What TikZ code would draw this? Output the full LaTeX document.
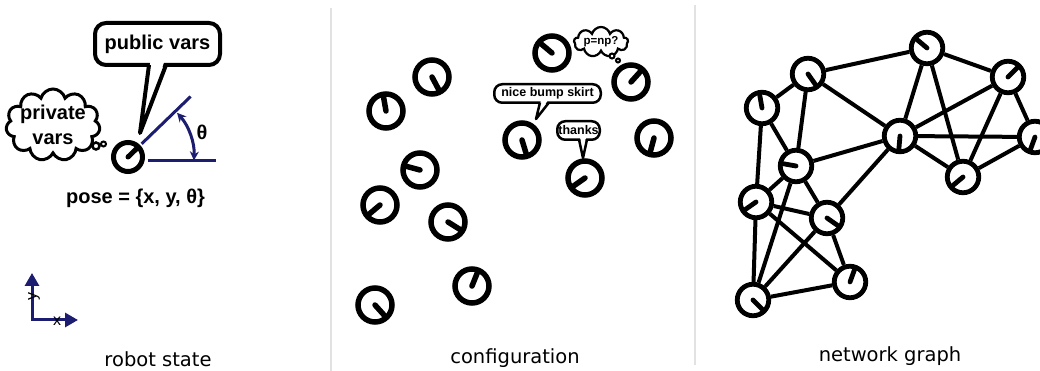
\documentclass[tikz,border=0pt]{standalone}
\usepackage{fontspec}
\setmainfont{Liberation Sans}
\newfontfamily\capfont{DejaVu Sans}
\usetikzlibrary{arrows.meta,shapes.symbols,calc}
\definecolor{botNavy}{RGB}{28,28,112}
\definecolor{ruleGray}{RGB}{226,226,226}
\tikzset{
	robot/.style n args={3}{
		circle,
		draw,
		fill=white,
		inner sep=0pt,
		line width=#2,
		minimum size=#3,
		path picture={\draw[line width=#2, line cap=round] (path picture bounding box.center) -- ++(#1:#3);}
	},
	cbot/.style={robot={#1}{5.5pt}{34pt}},
	gbot/.style={robot={#1}{4.8pt}{31.5pt}},
	link/.style={line width=4pt},
	pbubble/.style={
		draw,
		fill=white,
		line width=4pt,
		rounded corners=11pt,
		minimum width=125pt,
		minimum height=42pt,
		font=\fontsize{20}{24}\selectfont\bfseries
	},
	sbubble/.style={
		draw,
		fill=white,
		line width=2.5pt,
		rounded corners=8pt,
		inner sep=0pt,
		minimum height=18.5pt,
		font=\fontsize{12.5}{14}\selectfont\bfseries
	},
	think/.style={cloud, draw, fill=white, cloud ignores aspect, inner sep=0pt},
	thinkdot/.style={circle, draw, fill=white, inner sep=0pt},
	tail/.style={line join=round},
	nvline/.style={botNavy, line width=3pt},
	axis/.style={botNavy, line width=3pt, {Triangle[length=13pt,width=14pt]}-{Triangle[length=13pt,width=14pt]}},
	caption/.style={anchor=base, inner sep=0pt, font=\capfont\fontsize{19.5}{22}\selectfont}
}
\begin{document}
\begin{tikzpicture}[x=1pt, y=1pt]
		\useasboundingbox (0,0) rectangle (1040,371);
		\fill[white] (0,0) rectangle (1040,371);
		\draw[ruleGray, line width=1.5pt] (331,0) -- (331,363);
		\draw[ruleGray, line width=1.5pt] (695,6) -- (695,366);

		\node[robot={44}{5pt}{29pt}] (me) at (128,214) {};
		\draw[nvline] ($(me)+(44:19)$) -- ($(me)+(44:87)$);
		\draw[nvline] (148,210) -- (216,210);
		\draw[nvline, {Stealth[length=9pt,width=9pt]}-{Stealth[length=9pt,width=9pt]}] ($(me)+(-3:66)$) arc[start angle=-3, end angle=42, radius=66];
		\node[font=\fontsize{20}{24}\selectfont\bfseries] (theta) at (202,239) {θ};
		\node[pbubble] (pub) at (157.5,327) {public vars};
		\coordinate (pubtip) at (140,238);
		\fill[white] (150.5,310) -- (164.5,310) -- (pubtip) -- cycle;
		\draw[tail, line width=4pt] (149,306) -- (pubtip) -- (166,306);
		\node[think, cloud puffs=11, line width=3pt, minimum width=94pt, minimum height=72pt] (priv) at (53,246) {};
		\node[align=center, inner sep=0pt, font=\fontsize{20}{25}\selectfont\bfseries] (privtext) at (priv.center) {private\\vars};
		\node[thinkdot, line width=2.5pt, minimum size=7pt] (privdotA) at (96,225) {};
		\node[thinkdot, line width=2pt, minimum size=5pt] (privdotB) at (103.5,227) {};
		\node[font=\fontsize{20}{24}\selectfont\bfseries] (pose) at (135.5,173) {pose = \{x, y, θ\}};
		\coordinate (orig) at (32,51);
		\coordinate (yend) at (32,98);
		\coordinate (xend) at (78,51);
		\draw[axis] (yend) -- (orig) -- (xend);
		\node[rotate=90, font=\fontsize{16}{18}\selectfont] (ylab) at (34,74) {y};
		\node[font=\fontsize{16}{18}\selectfont] (xlab) at (57,50) {x};
		\node[caption] (capA) at (158,4) {robot state};

		\node[cbot=-62] (cA) at (432,294) {};
		\node[cbot=100] (cB) at (386,260) {};
		\node[cbot=165] (cC) at (420,201) {};
		\node[cbot=-140] (cD) at (380,166) {};
		\node[cbot=-32] (cE) at (448,149) {};
		\node[cbot=68] (cF) at (472,85) {};
		\node[cbot=-48] (cG) at (375,66) {};
		\node[cbot=140] (cH) at (552,318) {};
		\node[cbot=48] (cI) at (631,289) {};
		\node[cbot=-73] (cJ) at (522,231) {};
		\node[cbot=-145] (cK) at (585,193) {};
		\node[cbot=-105] (cL) at (654,233) {};
		\node[sbubble, minimum width=106.5pt] (skirt) at (547.5,277.5) {nice bump skirt};
		\coordinate (skirttip) at (536,252);
		\fill[white] (541,271) -- (548,271) -- (skirttip) -- cycle;
		\draw[tail, line width=2.5pt] (540,268.5) -- (skirttip) -- (549,268.5);
		\node[sbubble, minimum width=42.5pt] (thx) at (578.5,240.5) {thanks};
		\coordinate (thxtip) at (583,213);
		\fill[white] (580,234) -- (586,234) -- (thxtip) -- cycle;
		\draw[tail, line width=2.5pt] (579,231.5) -- (thxtip) -- (587,231.5);
		\node[think, cloud puffs=9, line width=2.2pt, minimum width=54pt, minimum height=30pt] (pnp) at (601,329) {};
		\node[inner sep=0pt, font=\fontsize{11.5}{14}\selectfont\bfseries] (pnptext) at (pnp.center) {p=np?};
		\node[thinkdot, line width=2pt, minimum size=5pt] (pnpdotA) at (612,315) {};
		\node[thinkdot, line width=2pt, minimum size=4pt] (pnpdotB) at (618,310.5) {};
		\node[caption] (capB) at (515,7) {configuration};

		\node[gbot=140] (gA) at (927,323) {};
		\node[gbot=45] (gB) at (1008,294) {};
		\node[gbot=-55] (gC) at (808,297) {};
		\node[gbot=100] (gD) at (762,263) {};
		\node[gbot=-95] (gE) at (900,235) {};
		\node[gbot=-110] (gF) at (1035,234) {};
		\node[gbot=170] (gG) at (796,205) {};
		\node[gbot=-140] (gH) at (963,194) {};
		\node[gbot=-145] (gI) at (756,169) {};
		\node[gbot=-35] (gJ) at (827,153) {};
		\node[gbot=70] (gK) at (850,89) {};
		\node[gbot=-45] (gL) at (753,71) {};
		\draw[link] (gA) -- (gB);
		\draw[link] (gA) -- (gC);
		\draw[link] (gA) -- (gE);
		\draw[link] (gA) -- (gH);
		\draw[link] (gB) -- (gE);
		\draw[link] (gB) -- (gH);
		\draw[link] (gB) -- (gF);
		\draw[link] (gE) -- (gF);
		\draw[link] (gE) -- (gH);
		\draw[link] (gF) -- (gH);
		\draw[link] (gC) -- (gE);
		\draw[link] (gC) -- (gD);
		\draw[link] (gC) -- (gG);
		\draw[link] (gD) -- (gG);
		\draw[link] (gD) -- (gI);
		\draw[link] (gG) -- (gE);
		\draw[link] (gE) -- (gJ);
		\draw[link] (gG) -- (gI);
		\draw[link] (gG) -- (gJ);
		\draw[link] (gG) -- (gL);
		\draw[link] (gI) -- (gJ);
		\draw[link] (gI) -- (gK);
		\draw[link] (gI) -- (gL);
		\draw[link] (gJ) -- (gL);
		\draw[link] (gJ) -- (gK);
		\draw[link] (gK) -- (gL);
		\node[caption] (capC) at (890,9) {network graph};
	\end{tikzpicture}
\end{document}
